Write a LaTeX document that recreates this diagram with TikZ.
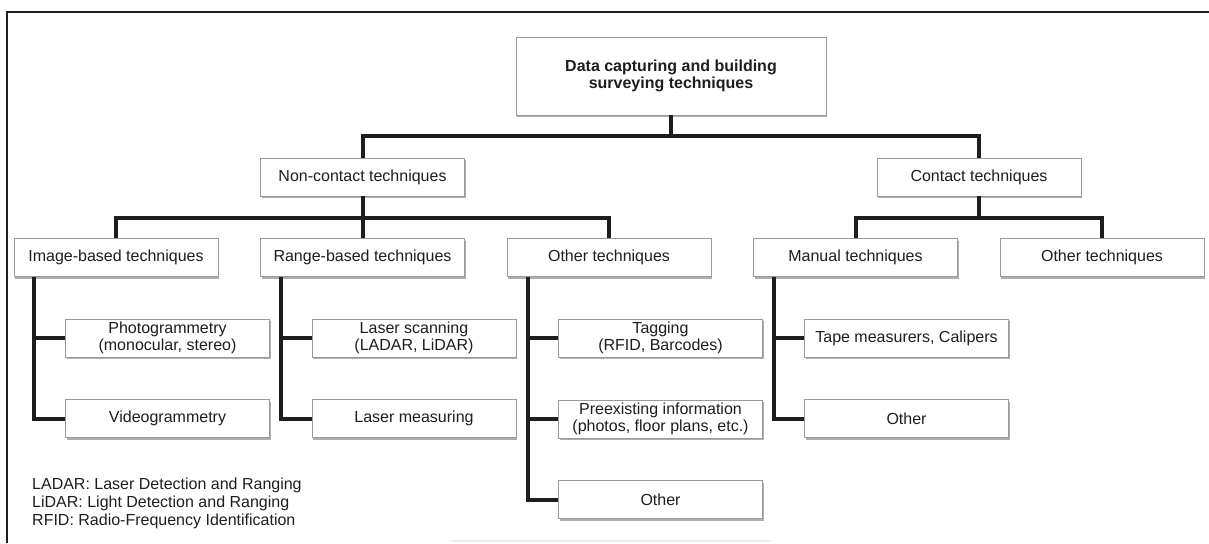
\documentclass[tikz,border=0pt]{standalone}
\usepackage{fontspec}
\setmainfont{Liberation Sans}
\usetikzlibrary{shadows}
\definecolor{boxline}{HTML}{9A9A9A}
\definecolor{ink}{HTML}{1E1E1E}
\begin{document}
\begin{tikzpicture}[x=1pt,y=-1pt,
  box/.style={draw=boxline, line width=0.9pt, fill=white,
    minimum width=204pt, minimum height=38pt, inner sep=2pt,
    align=center, text=ink, font=\fontsize{16}{17.5}\selectfont,
    drop shadow={shadow xshift=1.2pt, shadow yshift=-2pt, fill=black!45, opacity=0.7}},
  link/.style={line width=4pt, draw=ink, line join=miter}]
\useasboundingbox (0,0) rectangle (1209,543);

% outer frame
\draw[line width=1.5pt, ink] (7,543) -- (7,12) -- (1209,12);
\draw[black!8, line width=2pt] (451,541) -- (771,541);

% root
\node[box, minimum width=310pt, minimum height=78pt,
      font=\bfseries\fontsize{16}{17}\selectfont] (root) at (671,76)
      {Data capturing and building\\surveying techniques};

% first level
\node[box] (nct) at (362.5,177) {Non-contact techniques};
\node[box] (ct)  at (979,177)   {Contact techniques};

% second level
\node[box] (img)  at (116,257.5)   {Image-based techniques};
\node[box] (rng)  at (362.5,257.5) {Range-based techniques};
\node[box] (oth)  at (609,257.5)   {Other techniques};
\node[box] (man)  at (855.5,257.5) {Manual techniques};
\node[box] (othc) at (1102,257.5)  {Other techniques};

% leaves
\node[box] (photo) at (167.5,338)   {Photogrammetry\\(monocular, stereo)};
\node[box] (video) at (167.5,418.5) {Videogrammetry};
\node[box] (scan)  at (414,338)     {Laser scanning\\(LADAR, LiDAR)};
\node[box] (meas)  at (414,418.5)   {Laser measuring};
\node[box] (tag)   at (660.5,338)   {Tagging\\(RFID, Barcodes)};
\node[box] (pre)   at (660.5,419)   {Preexisting information\\(photos, floor plans, etc.)};
\node[box] (othx)  at (660.5,499.5) {Other};
\node[box] (tape)  at (906.5,338)   {Tape measurers, Calipers};
\node[box] (othm)  at (906.5,418.5) {Other};

% tree connectors
\coordinate (bar1) at (671,136);
\coordinate (bar2) at (0,218);
\draw[link] (root.south) -- (bar1);
\draw[link] (nct.north) -- (nct.north |- bar1) -- (ct.north |- bar1) -- (ct.north);
\draw[link] (nct.south) -- (nct.south |- bar2);
\draw[link] (img.north) -- (img.north |- bar2) -- (oth.north |- bar2) -- (oth.north);
\draw[link] (rng.north) -- (rng.north |- bar2);
\draw[link] (ct.south) -- (ct.south |- bar2);
\draw[link] (man.north) -- (man.north |- bar2) -- (othc.north |- bar2) -- (othc.north);

% side stems
\coordinate (s1) at ([xshift=20pt]img.south west);
\coordinate (s2) at ([xshift=21pt]rng.south west);
\coordinate (s3) at ([xshift=21pt]oth.south west);
\coordinate (s4) at ([xshift=21pt]man.south west);
\draw[link] (s1) |- (video.west);
\draw[link] (s1 |- photo.west) -- (photo.west);
\draw[link] (s2) |- (meas.west);
\draw[link] (s2 |- scan.west) -- (scan.west);
\draw[link] (s3) |- (othx.west);
\draw[link] (s3 |- tag.west) -- (tag.west);
\draw[link] (s3 |- pre.west) -- (pre.west);
\draw[link] (s4) |- (othm.west);
\draw[link] (s4 |- tape.west) -- (tape.west);

% abbreviations
\node[anchor=north west, inner sep=0pt, align=left, text=ink,
      font=\fontsize{16}{18}\selectfont] (legend) at (32,478)
  {LADAR: Laser Detection and Ranging\\
   LiDAR: Light Detection and Ranging\\
   RFID: Radio-Frequency Identification};
\end{tikzpicture}
\end{document}
